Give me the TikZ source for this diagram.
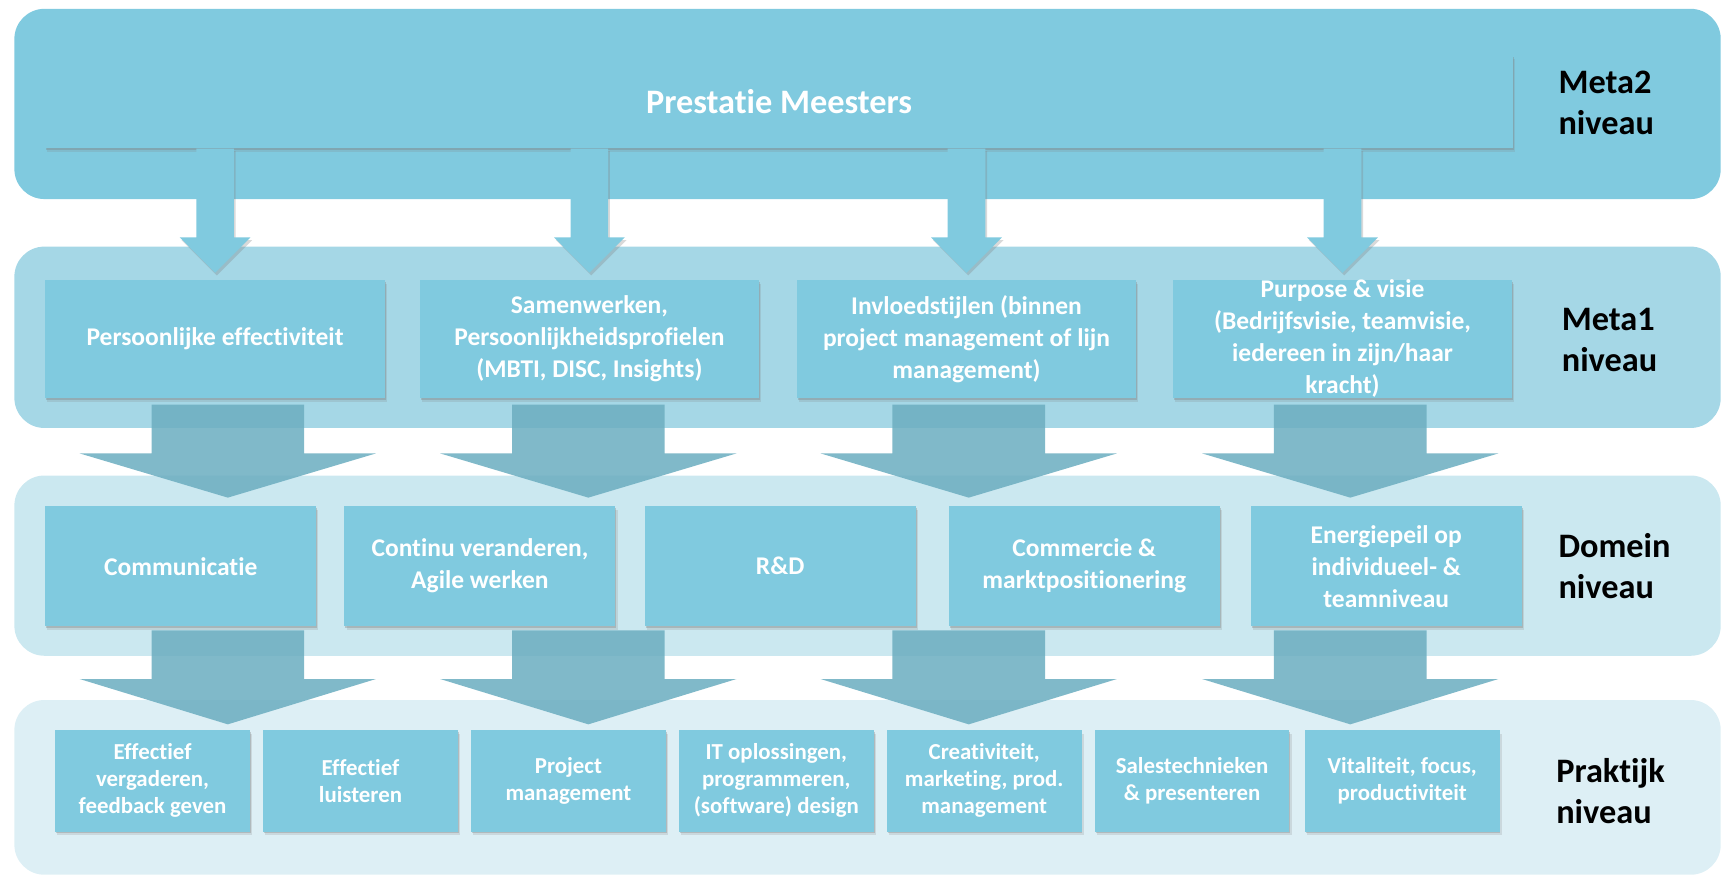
\documentclass[tikz,border=0pt]{standalone}
\usepackage{fontspec}
\setmainfont{Carlito}[Ligatures={NoCommon,NoContextual}]
\usetikzlibrary{shadows, calc}
\definecolor{tealbox}{RGB}{128,202,223}
\definecolor{bandtwo}{RGB}{165,215,230}
\definecolor{bandthree}{RGB}{203,232,240}
\definecolor{bandfour}{RGB}{221,239,245}
\definecolor{flowteal}{RGB}{110,175,193}
\newcommand{\unitpx}{0.0221cm}
\newcommand{\blockarrow}[6]{%
  \path[#1] ($(#2)+(-#4,0)$) -- ($(#2)+(#4,0)$) -- ($(#3)+(#4,-#6)$) -- ($(#3)+(#5,-#6)$)
    -- (#3) -- ($(#3)+(-#5,-#6)$) -- ($(#3)+(-#4,-#6)$) -- cycle;}
\tikzstyle{band} = [rounded corners=0.6cm]
\tikzstyle{level} = [rectangle, fill=tealbox, text=white, align=center, inner sep=0pt,
  drop shadow={shadow xshift=1.2pt, shadow yshift=-2.2pt, opacity=0.2},
  drop shadow={shadow xshift=0.5pt, shadow yshift=-1pt, opacity=0.35}]
\tikzstyle{metabox} = [level, minimum width=307*\unitpx, minimum height=107*\unitpx, font=\bfseries\fontsize{14.5}{18.2}\selectfont]
\tikzstyle{domainbox} = [level, minimum width=245*\unitpx, minimum height=108*\unitpx, font=\bfseries\fontsize{14.5}{18.2}\selectfont]
\tikzstyle{practicebox} = [level, minimum width=176*\unitpx, minimum height=92*\unitpx, font=\bfseries\fontsize{13}{15.4}\selectfont]
\tikzstyle{levelname} = [anchor=west, align=left, inner sep=0pt, font=\bfseries\fontsize{19.5}{23.3}\selectfont]
\tikzstyle{thinarrow} = [fill=tealbox, drop shadow={shadow xshift=1pt, shadow yshift=-1.5pt, opacity=0.3}]
\tikzstyle{widearrow} = [fill=flowteal, fill opacity=0.88]

\begin{document}
\begin{tikzpicture}[x=\unitpx, y=-\unitpx]
  \useasboundingbox (0,0) rectangle (1568,793);
  % level bands
  \fill[tealbox, band] (13,8) rectangle (1556,180);
  \fill[bandtwo, band] (13,223) rectangle (1556,387);
  \fill[bandthree, band] (13,430) rectangle (1556,593);
  \fill[bandfour, band] (13,633) rectangle (1556,791);

  \node (pm) [level, minimum width=1327*\unitpx, minimum height=84*\unitpx, font=\bfseries\fontsize{19.5}{23}\selectfont] at (704.5,92) {Prestatie Meesters};

  \node (m1) [metabox] at (194.5,306.5) {Persoonlijke effectiviteit};
  \node (m2) [metabox] at (533,306.5) {Samenwerken,\\Persoonlijkheidsprofielen\\(MBTI, DISC, Insights)};
  \node (m3) [metabox] at (874,306.5) {Invloedstijlen (binnen\\project management of lijn\\management)};
  \node (m4) [metabox] at (1214,306.5) {Purpose \& visie\\(Bedrijfsvisie, teamvisie,\\iedereen in zijn/haar\\kracht)};

  \node (d1) [domainbox] at (163.5,512) {Communicatie};
  \node (d2) [domainbox] at (434,512) {Continu veranderen,\\Agile werken};
  \node (d3) [domainbox] at (705.5,512) {R\&D};
  \node (d4) [domainbox] at (980.5,512) {Commercie \&\\marktpositionering};
  \node (d5) [domainbox] at (1253.5,512) {Energiepeil op\\individueel- \&\\teamniveau};

  \node (p1) [practicebox] at (138,706) {Effectief\\vergaderen,\\feedback geven};
  \node (p2) [practicebox] at (326,706) {Effectief\\luisteren};
  \node (p3) [practicebox] at (514,706) {Project\\management};
  \node (p4) [practicebox] at (702,706) {IT oplossingen,\\programmeren,\\(software) design};
  \node (p5) [practicebox] at (890,706) {Creativiteit,\\marketing, prod.\\management};
  \node (p6) [practicebox] at (1078,706) {Salestechnieken\\\& presenteren};
  \node (p7) [practicebox] at (1268,706) {Vitaliteit, focus,\\productiviteit};

  \node (l1) [levelname] at (1409,93) {Meta2\\niveau};
  \node (l2) [levelname] at (1412,307) {Meta1\\niveau};
  \node (l3) [levelname] at (1409,512) {Domein\\niveau};
  \node (l4) [levelname] at (1407,715) {Praktijk\\niveau};

  % arrows meta2 -> meta1
  \foreach \i in {1,...,4} {
    \coordinate (s\i) at (pm.south -| m\i.north);
    \coordinate (t\i) at ($(m\i.north)+(0,-6)$);
    \blockarrow{thinarrow}{s\i}{t\i}{17}{32}{32}
  }
  % wide arrows meta1 -> domein -> praktijk
  \foreach \x [count=\i] in {206,532,876,1221} {
    \coordinate (ua\i) at (\x,366);
    \coordinate (ub\i) at (\x,450);
    \coordinate (la\i) at (\x,570);
    \coordinate (lb\i) at (\x,655);
    \blockarrow{widearrow}{ua\i}{ub\i}{69}{134}{40}
    \blockarrow{widearrow}{la\i}{lb\i}{69}{134}{41}
  }
\end{tikzpicture}
\end{document}
